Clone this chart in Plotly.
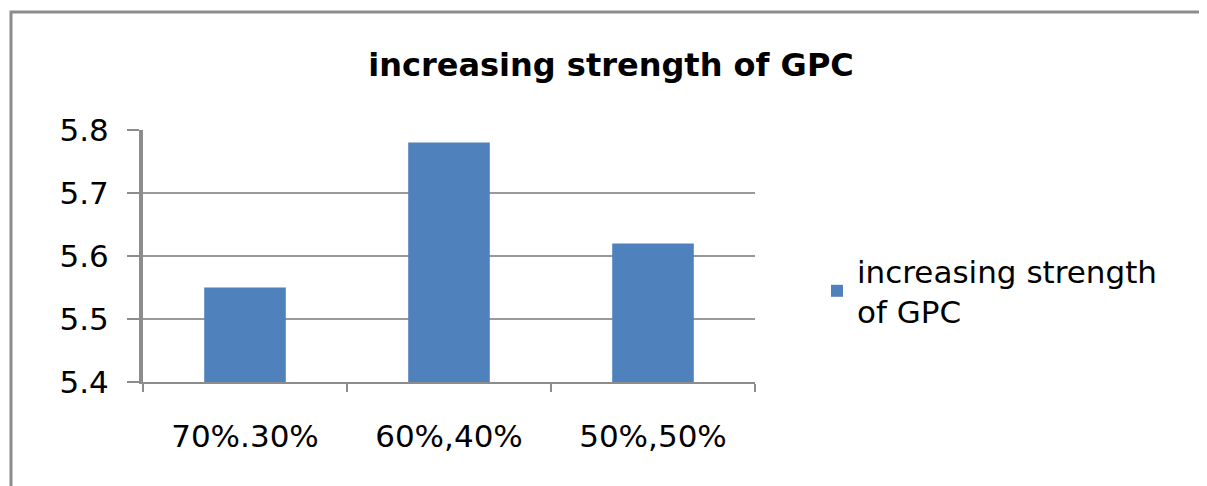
import plotly.graph_objects as go

categories = ["70%.30%", "60%,40%", "50%,50%"]
values = [5.55, 5.78, 5.62]
series_name = "increasing strength<br>of GPC"
title_text = "increasing strength of GPC"
y_ticks = [5.4, 5.5, 5.6, 5.7, 5.8]

O = 8  # page body margin
W, H = 1207 - O, 486 - O
L, R, T, B = 143 - O, 755 - O, 130 - O, 382 - O
pw, ph = R - L, B - T
FONT = "DejaVu Sans"
GRAY = "#8c8c8c"

fig = go.Figure()
fig.add_trace(go.Bar(x=categories, y=values, name=series_name,
                     marker=dict(color="#4F81BD", line=dict(width=0)),
                     showlegend=True))

fig.update_layout(
    width=W, height=H,
    margin=dict(l=L, r=W - R, t=T, b=H - B),
    paper_bgcolor="white", plot_bgcolor="white",
    bargap=0.6,
    font=dict(family=FONT, color="#000000"),
    title=dict(text="<b>" + title_text + "</b>", x=(611 - O) / W, xanchor="center",
               y=1 - (65 - O) / H, yanchor="middle", font=dict(size=32, family=FONT)),
    showlegend=True,
    legend=dict(x=(817 - O - L) / pw, y=(B - (244 - O)) / ph, xanchor="left", yanchor="top",
                font=dict(size=31, family=FONT), bgcolor="rgba(0,0,0,0)",
                itemwidth=30),
    xaxis=dict(showline=True, linecolor=GRAY, linewidth=2,
               ticks="outside", tickson="boundaries", ticklen=8, tickwidth=2,
               tickcolor=GRAY, tickfont=dict(size=31), ticklabelstandoff=26,
               showgrid=False),
    yaxis=dict(range=[5.4, 5.8], tickvals=y_ticks, ticktext=[f"{v:.1f}" for v in y_ticks],
               showline=True, linecolor=GRAY, linewidth=4,
               ticks="outside", ticklen=12, tickwidth=2, tickcolor=GRAY,
               showgrid=True, gridcolor="#999999", gridwidth=2,
               tickfont=dict(size=31), ticklabelstandoff=12, zeroline=False),
    shapes=[dict(type="rect", xref="paper", yref="paper",
                 x0=(11 - O - L) / pw, x1=(1205 - O - L) / pw,
                 y0=(B - (520 - O)) / ph, y1=(B - (12 - O)) / ph,
                 line=dict(color=GRAY, width=3), fillcolor="rgba(0,0,0,0)",
                 layer="below")],
)

fig.write_html("out.html")
